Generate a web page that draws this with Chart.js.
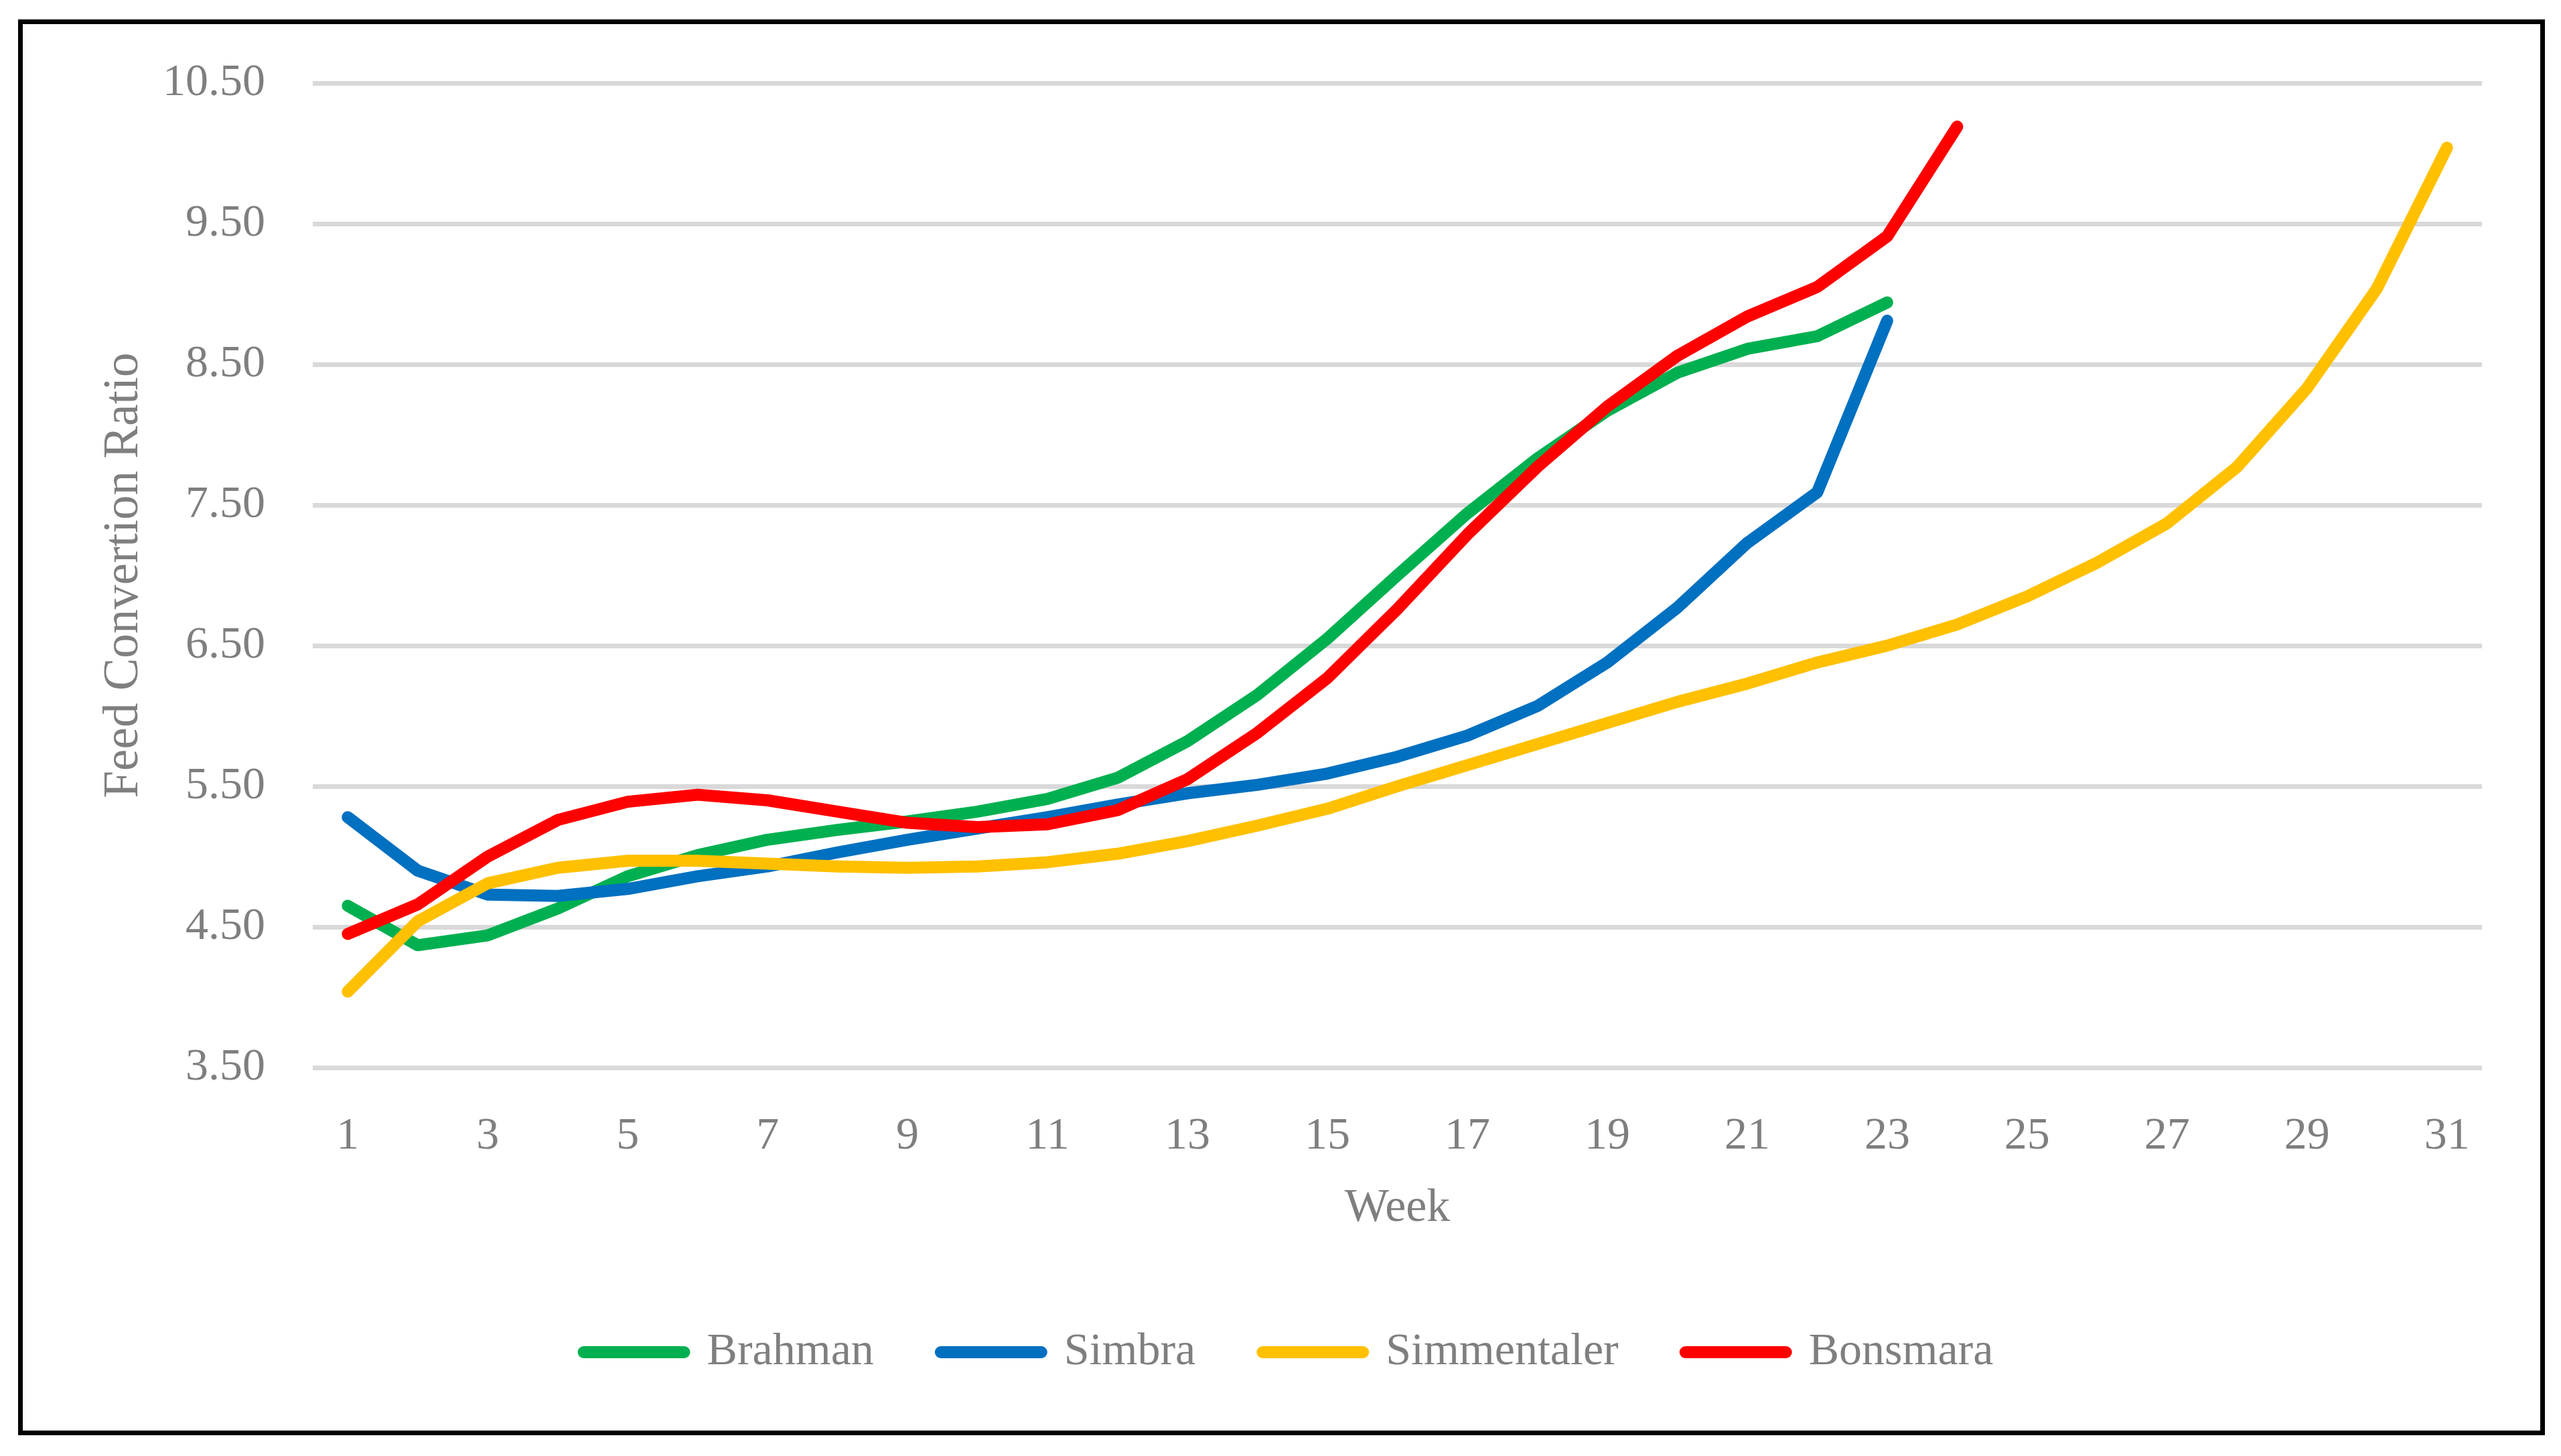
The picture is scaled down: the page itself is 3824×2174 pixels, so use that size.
<!DOCTYPE html>
<html>
<head>
<meta charset="utf-8">
<script src="https://cdn.jsdelivr.net/npm/chart.js@4.4.0/dist/chart.umd.min.js"></script>
<style>
  html, body { margin: 0; padding: 0; background: #fff; }
  #frame { position: absolute; left: 27px; top: 29px; width: 3773px; height: 2114px; border: 7px solid #000; box-sizing: border-box; }
  #wrap { position: absolute; left: 0; top: 0; width: 3824px; height: 2174px; }
</style>
</head>
<body>
<div id="frame"></div>
<div id="wrap"><canvas id="fcrChart" width="3824" height="2174"></canvas></div>
<script>
// weeks on the x axis
const weeks = ['1', '2', '3', '4', '5', '6', '7', '8', '9', '10', '11', '12', '13', '14', '15', '16',
  '17', '18', '19', '20', '21', '22', '23', '24', '25', '26', '27', '28', '29', '30', '31'];

// feed conversion ratio per breed
const brahman = [4.65, 4.37, 4.44, 4.63, 4.86, 5.01, 5.12, 5.19, 5.25, 5.32, 5.41, 5.56, 5.82, 6.15,
  6.55, 7.00, 7.44, 7.83, 8.17, 8.44, 8.61, 8.70, 8.94];
const simbra = [5.28, 4.90, 4.73, 4.72, 4.77, 4.86, 4.93, 5.03, 5.12, 5.20, 5.28, 5.37, 5.45, 5.51,
  5.59, 5.71, 5.86, 6.07, 6.38, 6.77, 7.23, 7.59, 8.81];
const simmentaler = [4.04, 4.54, 4.81, 4.92, 4.97, 4.97, 4.95, 4.93, 4.92, 4.93, 4.96, 5.02, 5.11,
  5.22, 5.34, 5.50, 5.65, 5.80, 5.95, 6.10, 6.23, 6.38, 6.50, 6.65, 6.85, 7.09, 7.37, 7.77, 8.33,
  9.04, 10.04];
const bonsmara = [4.45, 4.66, 5.00, 5.26, 5.39, 5.44, 5.40, 5.32, 5.24, 5.21, 5.23, 5.33, 5.55, 5.88,
  6.27, 6.76, 7.29, 7.77, 8.20, 8.56, 8.84, 9.05, 9.41, 10.19];

const yMin = 3.5;
const yMax = 10.5;

const textGrey = '#7f7f7f';
const fontFamily = '"Liberation Serif", "Times New Roman", serif';

function line(label, data, color, order) {
  return {
    label: label,
    data: data,
    borderColor: color,
    backgroundColor: color,
    borderWidth: 18,
    borderCapStyle: 'round',
    borderJoinStyle: 'round',
    pointRadius: 0,
    tension: 0,
    order: order
  };
}

const config = {
  type: 'line',
  data: {
    labels: weeks,
    datasets: [
      line('Brahman', brahman, '#00b050', 4),
      line('Simbra', simbra, '#0070c0', 3),
      line('Simmentaler', simmentaler, '#ffc000', 2),
      line('Bonsmara', bonsmara, '#ff0000', 1)
    ]
  },
  options: {
    responsive: false,
    devicePixelRatio: 1,
    animation: false,
    layout: {
      padding: { left: 142, right: 118, top: 124, bottom: 111 }
    },
    plugins: {
      tooltip: { enabled: false },
      legend: {
        position: 'bottom',
        labels: {
          usePointStyle: true,
          pointStyle: 'line',
          pointStyleWidth: 150,
          padding: 100,
          color: textGrey,
          font: { family: fontFamily, size: 68 },
          sort: (a, b) => a.datasetIndex - b.datasetIndex,
          generateLabels: (chart) => {
            // rounded, thick legend lines like the series
            const items = Chart.defaults.plugins.legend.labels.generateLabels(chart);
            items.forEach((item) => {
              item.lineCap = 'round';
              item.lineWidth = 18;
            });
            return items;
          }
        }
      }
    },
    scales: {
      x: {
        offset: true,
        grid: { display: false },
        border: { display: false },
        ticks: {
          autoSkip: false,
          maxRotation: 0,
          padding: 54,
          color: textGrey,
          font: { family: fontFamily, size: 68 },
          callback: function (value, index) {
            return index % 2 === 0 ? this.getLabelForValue(value) : '';
          }
        },
        title: {
          display: true,
          text: 'Week',
          color: textGrey,
          font: { family: fontFamily, size: 70 },
          padding: { top: 0, bottom: 38 }
        },
        afterFit: (axis) => { axis.height = 291; }
      },
      y: {
        min: yMin,
        max: yMax,
        grid: { color: '#d9d9d9', lineWidth: 7, drawTicks: false },
        border: { display: false },
        ticks: {
          stepSize: 1,
          padding: 71,
          color: textGrey,
          font: { family: fontFamily, size: 68 },
          callback: (value) => value.toFixed(2)
        },
        title: {
          display: true,
          text: 'Feed Convertion Ratio',
          color: textGrey,
          font: { family: fontFamily, size: 73 },
          padding: { top: 0, bottom: 0 }
        },
        afterFit: (axis) => { axis.width = 325; }
      }
    }
  }
};

const fcrChart = new Chart(document.getElementById('fcrChart'), config);
</script>
</body>
</html>
